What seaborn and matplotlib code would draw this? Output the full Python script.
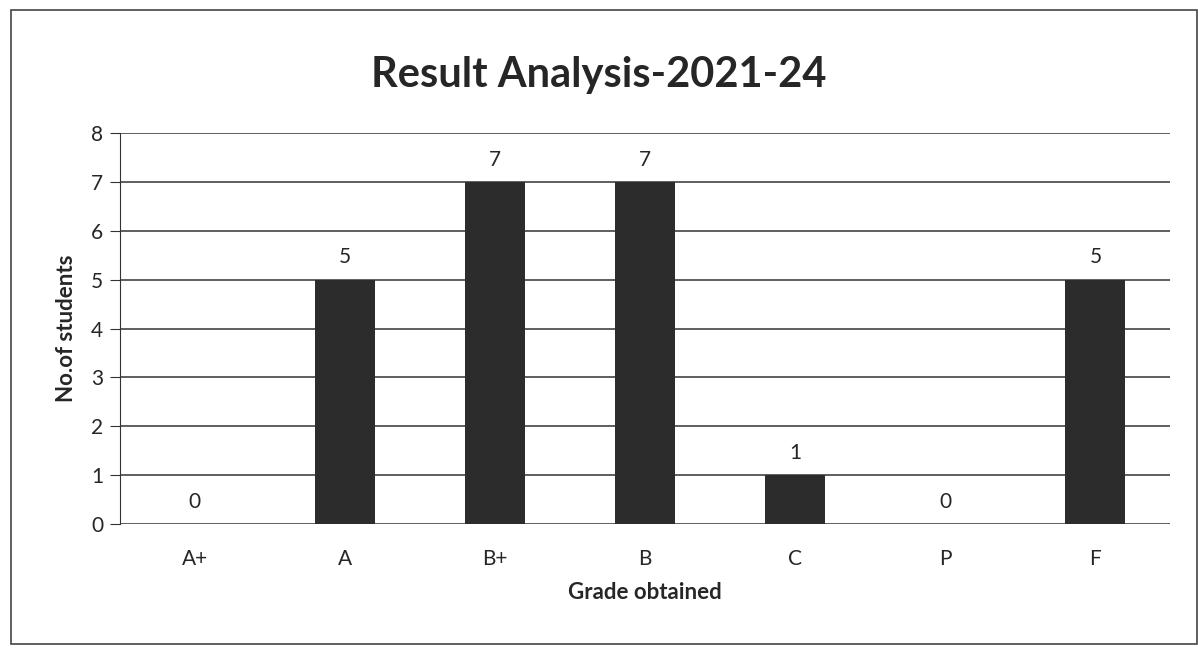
import matplotlib
matplotlib.use("Agg")
import matplotlib.pyplot as plt
import seaborn as sns
import pandas as pd
from matplotlib.patches import Rectangle

grades = ["A+", "A", "B+", "B", "C", "P", "F"]
students = [0, 5, 7, 7, 1, 0, 5]

sns.set_style("white")
plt.rcParams['font.family'] = ['Lato', 'DejaVu Sans']

df = pd.DataFrame({"grade": grades, "count": students})

fig = plt.figure(figsize=(11.98, 6.48), dpi=100)
ax = fig.add_axes([0.1, 0.191, 0.877, 0.604])

sns.barplot(data=df, x="grade", y="count", color="#2c2c2c", width=0.4,
            saturation=1, linewidth=0, ax=ax, zorder=3)

ax.set_ylim(0, 8)
ax.set_yticks(range(0, 9))
ax.set_xlim(-0.5, len(grades) - 0.5)
ax.yaxis.grid(True, color="#333333", linewidth=1.1, zorder=0)
ax.set_axisbelow(True)
for s in ["top", "right", "bottom"]:
    ax.spines[s].set_visible(False)
ax.spines["left"].set_color("#333333")
ax.tick_params(axis="y", left=True, length=7, color="#333333", labelsize=15, pad=5)
ax.tick_params(axis="x", bottom=False, labelsize=15, pad=14)

for i, v in enumerate(students):
    ax.text(i, v + 0.25, str(v), ha="center", va="bottom", fontsize=15)

ax.set_xlabel("Grade obtained", fontsize=16, fontweight="bold", labelpad=10)
ax.set_ylabel("No.of students", fontsize=16, fontweight="bold", labelpad=10)
fig.text(0.5, 0.884, "Result Analysis-2021-24", ha="center", va="center",
         fontsize=30, fontweight="bold")

fig.patches.append(Rectangle((0.009, 0.006), 0.99, 0.978, transform=fig.transFigure,
                             fill=False, edgecolor="#444444", linewidth=1.2))

fig.savefig("out.png", dpi=100)
